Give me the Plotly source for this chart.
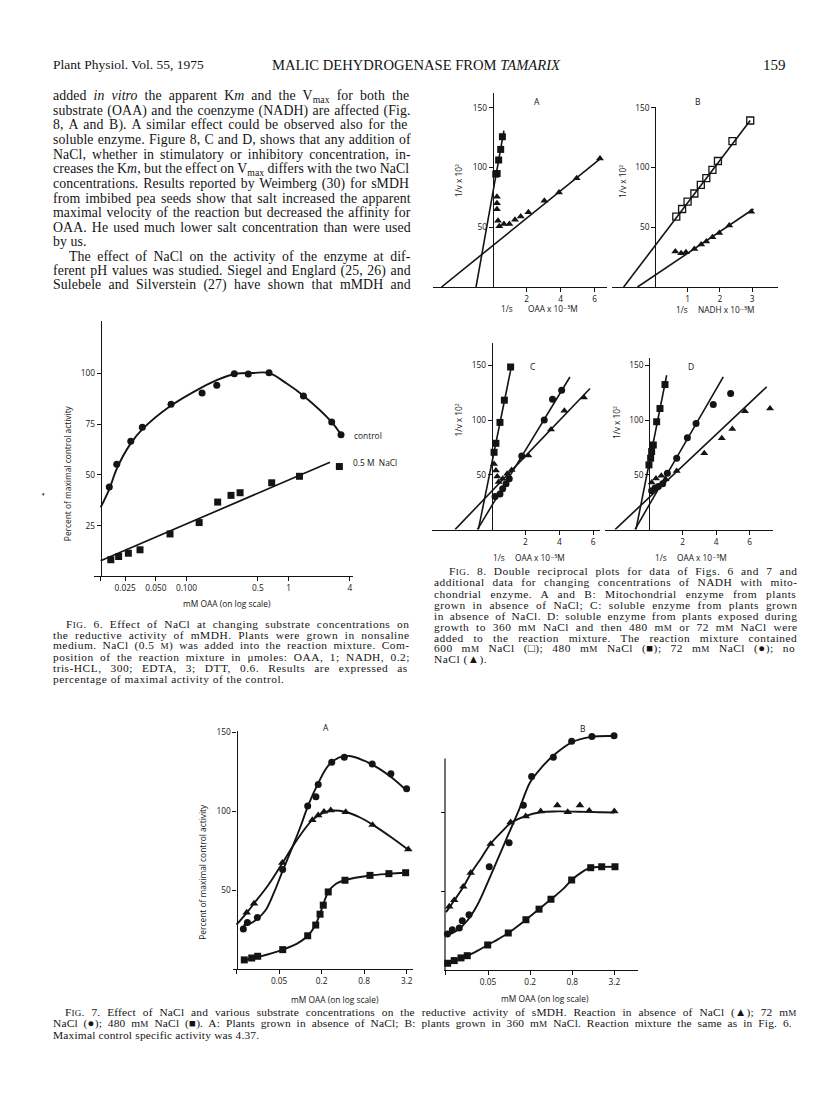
import re
import plotly.graph_objects as go

W, H = 816, 1097

# ===================== DATA =====================
# ---- Fig. 6 : mMDH, % of maximal control activity vs mM OAA (log) ----
f6_ctrl_x = [0.0175, 0.0207, 0.0284, 0.0369, 0.0705, 0.142, 0.198, 0.294, 0.403, 0.644, 1.40, 2.65, 3.27]
f6_ctrl_y = [44.0, 55.2, 66.5, 73.5, 84.8, 90.3, 94.1, 99.8, 99.7, 100.3, 88.9, 76.1, 69.8]
f6_ctrl_curve_x = [0.0144, 0.0175, 0.0207, 0.0284, 0.037, 0.07, 0.14, 0.2, 0.3, 0.45, 0.64, 0.96, 1.4, 2.65, 3.3]
f6_ctrl_curve_y = [34, 43, 53, 65.5, 72.5, 84, 93, 96.8, 99.7, 100.2, 100.2, 95, 89, 76, 69.5]
f6_nacl_x = [0.0181, 0.0216, 0.0269, 0.0350, 0.0689, 0.133, 0.202, 0.273, 0.335, 0.684, 1.28, 3.15]
f6_nacl_y = [8.2, 9.8, 11.4, 13.1, 20.9, 26.5, 36.6, 39.9, 41.2, 46.1, 49.3, 54.1]
f6_nacl_fit_x = [0.0144, 2.55]
f6_nacl_fit_y = [7.7, 56.2]
f6_xtick_vals = [0.0144, 0.025, 0.05, 0.1, 0.5, 1, 4]
f6_xtick_text = ['', '0.025', '0.050', '0.100', '0.5', '1', '4']
f6_ytick_vals = [25, 50, 75, 100]

# ---- Fig. 8 : double reciprocal plots ----
a_sq_x = [0.18, 0.26, 0.35, 0.47, 0.57]
a_sq_y = [94.5, 95, 106.3, 115.2, 125.8]
a_sq_fit_x = [-0.98, 0.66]
a_sq_fit_y = [0, 131]
a_tri_x = [0.25, 0.25, 0.25, 0.31, 0.39, 0.66, 0.98, 1.31, 1.65, 2.1, 3.04, 3.9, 4.94, 6.31]
a_tri_y = [75.5, 70.2, 65.2, 55.5, 50.8, 52.8, 52.8, 56.4, 59.1, 62.5, 72.2, 79.1, 91.1, 107.5]
a_tri_fit_x = [-3.01, 6.41]
a_tri_fit_y = [0, 108.3]

b_osq_x = [0.65, 0.83, 1.0, 1.21, 1.41, 1.58, 1.77, 1.94, 2.39, 2.94]
b_osq_y = [58.9, 65.3, 71.4, 78.3, 85.5, 91.1, 98, 105.5, 122.2, 139.4]
b_osq_fit_x = [-0.98, 2.94]
b_osq_fit_y = [0, 139.4]
b_tri_x = [0.62, 0.8, 0.95, 1.21, 1.42, 1.58, 1.77, 1.98, 2.29, 2.97]
b_tri_y = [29.7, 28.3, 29.2, 31.9, 35.5, 38, 41.6, 45.3, 51.4, 63]
b_tri_fit_x = [-0.55, 3.04]
b_tri_fit_y = [0, 65.3]

c_sq_x = [0.14, 0.25, 0.49, 0.75, 1.12]
c_sq_y = [70.6, 78.8, 97.9, 118.2, 148.5]
c_sq_fit_x = [-0.79, 1.18]
c_sq_fit_y = [0, 150]
c_ci_x = [0.2, 0.49, 0.65, 0.85, 1.04, 1.78, 3.11, 3.6, 4.14]
c_ci_y = [30.3, 32.4, 37.3, 41.8, 46.4, 67.3, 100, 119.1, 127.3]
c_ci_fit_x = [-0.85, 4.63]
c_ci_fit_y = [0, 139.4]
c_tri_x = [0.14, 0.25, 0.33, 0.41, 0.65, 0.92, 1.18, 2.17, 3.51, 4.3, 5.46]
c_tri_y = [60, 54, 48.5, 43.4, 46.4, 50.9, 54.5, 67.6, 91.5, 108.5, 120.6]
c_tri_fit_x = [-2.17, 5.82]
c_tri_fit_y = [0, 128.8]

d_sq_x = [-0.02, 0.08, 0.14, 0.24, 0.44, 0.64, 0.94]
d_sq_y = [59.1, 65.2, 71.3, 77.3, 98.5, 110.6, 132.5]
d_sq_fit_x = [-0.8, 1.04]
d_sq_fit_y = [0, 141]
d_ci_x = [0.14, 0.34, 0.54, 0.8, 1.08, 1.64, 2.28, 2.8, 3.83, 4.87]
d_ci_y = [35.5, 37.9, 39.4, 41.8, 51.5, 65.2, 84, 97, 114.3, 124.3]
d_ci_fit_x = [-0.86, 4.43]
d_ci_fit_y = [0, 139.5]
d_tri_x = [0.14, 0.4, 0.72, 0.98, 1.64, 3.29, 4.34, 4.97, 5.73, 7.23]
d_tri_y = [43.1, 46.7, 49.1, 46.1, 53.6, 69.7, 83.4, 91.8, 108.2, 110.6]
d_tri_fit_x = [-2.05, 7.03]
d_tri_fit_y = [0, 130.4]

f8_ab_yticks = [50, 100, 150]
f8_a_xticks = [2, 4, 6]
f8_b_xticks = [1, 2, 3]

# ---- Fig. 7 : sMDH, % of maximal control activity vs mM OAA (log) ----
a7_ci_x = [0.0156, 0.0178, 0.0246, 0.0562, 0.127, 0.166, 0.179, 0.278, 0.419, 1.04, 1.91, 3.19]
a7_ci_y = [25.3, 29.4, 32.6, 63.1, 103.3, 109.2, 117, 131, 134.2, 130, 123.7, 114.3]
a7_ci_curve_x = [0.0156, 0.02, 0.025, 0.032, 0.042, 0.056, 0.08, 0.1, 0.13, 0.18, 0.25, 0.35, 0.5, 0.8, 1.3, 2, 3.2]
a7_ci_curve_y = [27.5, 29, 32, 37, 48, 62, 79, 90, 104, 118, 129, 134, 135, 132, 127, 121, 113]
a7_tri_x = [0.0174, 0.0221, 0.0556, 0.148, 0.179, 0.216, 0.269, 0.438, 1.05, 3.37]
a7_tri_y = [35.7, 41.4, 67.3, 94.4, 97.4, 99.7, 100.6, 99.5, 91.3, 75.8]
a7_tri_curve_x = [0.0125, 0.0174, 0.0221, 0.035, 0.0556, 0.09, 0.148, 0.2, 0.27, 0.44, 0.7, 1.05, 2, 3.37]
a7_tri_curve_y = [28, 35.5, 41.5, 53, 67, 82, 94.5, 98.5, 100.3, 99.5, 96, 91.5, 83, 75.5]
a7_sq_x = [0.0161, 0.0205, 0.0249, 0.0563, 0.127, 0.165, 0.190, 0.211, 0.248, 0.428, 0.967, 1.79, 3.09]
a7_sq_y = [5.7, 6.9, 8, 12.2, 21, 27.8, 34.7, 40.4, 48.8, 56.2, 59.3, 60.4, 61]
a7_sq_curve_x = [0.0161, 0.025, 0.04, 0.0563, 0.09, 0.127, 0.16, 0.19, 0.215, 0.25, 0.32, 0.43, 0.97, 1.8, 3.1]
a7_sq_curve_y = [5.5, 7.5, 10, 12.2, 16, 21, 27, 35, 42, 49, 54, 56.3, 59.2, 60.3, 61]

b7_tri_x = [0.0139, 0.0164, 0.0221, 0.0282, 0.0545, 0.105, 0.173, 0.283, 0.489, 0.689, 1.03, 1.40, 3.2]
b7_tri_y = [40.2, 44.2, 52.8, 61.6, 79.9, 93.6, 97.4, 100.6, 104.4, 100.1, 104.4, 101, 100.6]
b7_tri_curve_x = [0.0125, 0.0139, 0.0164, 0.0221, 0.0282, 0.04, 0.0545, 0.08, 0.105, 0.17, 0.28, 0.5, 1, 2, 3.2]
b7_tri_curve_y = [36.5, 39.5, 44, 52.5, 61, 71, 80, 88, 93, 97.5, 100, 100.5, 100.3, 100, 99.8]
b7_ci_x = [0.0131, 0.0154, 0.0194, 0.0214, 0.0267, 0.052, 0.1, 0.160, 0.210, 0.429, 0.785, 1.53, 3.17]
b7_ci_y = [22.7, 25.4, 26.5, 31.1, 34.9, 65.4, 80.6, 104.4, 122.7, 134.8, 145, 148, 148.5]
b7_ci_curve_x = [0.0131, 0.018, 0.025, 0.035, 0.05, 0.07, 0.1, 0.14, 0.2, 0.3, 0.43, 0.8, 1.5, 3.2]
b7_ci_curve_y = [22, 25, 31, 41, 56, 71, 87, 102, 119, 129, 136, 144.5, 147.8, 148.3]
b7_sq_x = [0.0132, 0.0164, 0.0205, 0.0252, 0.0494, 0.0973, 0.174, 0.268, 0.397, 0.785, 1.47, 2.11, 3.27]
b7_sq_y = [4.2, 5.9, 7.6, 9, 15.8, 23.4, 31.8, 38.5, 44.8, 57, 64.8, 65.4, 65.4]
b7_sq_curve_x = [0.0132, 0.0164, 0.0205, 0.0252, 0.035, 0.0494, 0.07, 0.0973, 0.174, 0.268, 0.397, 0.6, 0.785, 1.1, 1.47, 2.1, 3.27]
b7_sq_curve_y = [4.2, 5.7, 7.3, 8.8, 12, 15.8, 19.5, 23.4, 31.8, 38.5, 44.8, 51.5, 57, 62, 64.8, 65.3, 65.4]

f7_xtick_vals = [0.0125, 0.05, 0.2, 0.8, 3.2]
f7_xtick_text = ['', '0.05', '0.2', '0.8', '3.2']
f7_ytick_vals = [50, 100, 150]

# ---- page text ----
header_left = "Plant Physiol. Vol. 55, 1975"
header_mid = "MALIC DEHYDROGENASE FROM <i>TAMARIX</i>"
header_page = "159"

body_lines = [
    "added <i>in vitro</i> the apparent K<i>m</i> and the V[max] for both the",
    "substrate (OAA) and the coenzyme (NADH) are affected (Fig.",
    "8, A and B). A similar effect could be observed also for the",
    "soluble enzyme. Figure 8, C and D, shows that any addition of",
    "NaCl, whether in stimulatory or inhibitory concentration, in-",
    "creases the K<i>m</i>, but the effect on V[max] differs with the two NaCl",
    "concentrations. Results reported by Weimberg (30) for sMDH",
    "from imbibed pea seeds show that salt increased the apparent",
    "maximal velocity of the reaction but decreased the affinity for",
    "OAA. He used much lower salt concentration than were used",
    "by us.",
    "The effect of NaCl on the activity of the enzyme at dif-",
    "ferent pH values was studied. Siegel and Englard (25, 26) and",
    "Sulebele and Silverstein (27) have shown that mMDH and",
]

fig6_caption = [
    "F{IG}. 6. Effect of NaCl at changing substrate concentrations on",
    "the reductive activity of mMDH. Plants were grown in nonsaline",
    "medium. NaCl (0.5 {M}) was added into the reaction mixture. Com-",
    "position of the reaction mixture in μmoles: OAA, 1; NADH, 0.2;",
    "tris-HCL, 300; EDTA, 3; DTT, 0.6. Results are expressed as",
    "percentage of maximal activity of the control.",
]

fig8_caption = [
    "F{IG}. 8. Double reciprocal plots for data of Figs. 6 and 7 and",
    "additional data for changing concentrations of NADH with mito-",
    "chondrial enzyme. A and B: Mitochondrial enzyme from plants",
    "grown in absence of NaCl; C: soluble enzyme from plants grown",
    "in absence of NaCl. D: soluble enzyme from plants exposed during",
    "growth to 360 m{M} NaCl and then 480 m{M} or 72 m{M} NaCl were",
    "added to the reaction mixture. The reaction mixture contained",
    "600 m{M} NaCl (□); 480 m{M} NaCl (■); 72 m{M} NaCl (●); no",
    "NaCl (▲).",
]

fig7_caption = [
    "F{IG}. 7. Effect of NaCl and various substrate concentrations on the reductive activity of sMDH. Reaction in absence of NaCl (▲); 72 m{M}",
    "NaCl (●); 480 m{M} NaCl (■). A: Plants grown in absence of NaCl; B: plants grown in 360 m{M} NaCl. Reaction mixture the same as in Fig. 6.",
    "Maximal control specific activity was 4.37.",
]

# ===================== HELPERS =====================
INK = '#141414'
SERIF = 'Liberation Serif, Times New Roman, serif'
SANS = 'Open Sans, DejaVu Sans, sans-serif'
AXF = dict(family=SANS, size=8.3, color=INK)


def fx(p):
    return p / W


def fy(p):
    return 1 - p / H


fig = go.Figure()
annotations = []
shapes = []


def ann(px, py, text, size=8.5, family=SANS, xanchor='center', angle=0):
    annotations.append(dict(x=fx(px), y=fy(py), xref='paper', yref='paper', text=text,
                            showarrow=False, xanchor=xanchor, yanchor='middle',
                            textangle=angle, borderpad=0,
                            font=dict(family=family, size=size, color=INK)))


# Times-compatible advance widths (per 1000 em) for justification
TW = {' ': 250, '(': 333, ')': 333, ',': 250, '-': 333, '.': 250, ':': 278, ';': 278, "'": 333,
      'μ': 500, '▲': 720, '●': 600, '■': 720, '□': 720}
TW.update({d: 500 for d in '0123456789'})
TW.update(dict(zip('ABCDEFGHIJKLMNOPQRSTUVWXYZ',
                   [722, 667, 667, 722, 611, 556, 722, 722, 333, 389, 722, 611, 889, 722, 722, 556,
                    722, 667, 556, 611, 722, 722, 944, 722, 722, 611])))
TW.update(dict(zip('abcdefghijklmnopqrstuvwxyz',
                   [444, 500, 444, 500, 444, 333, 500, 500, 278, 278, 500, 278, 778, 500, 500, 500,
                    500, 333, 389, 278, 500, 500, 722, 500, 500, 444])))


def markup(m, fs):
    # {XX} -> small capitals, [xx] -> subscript
    m = re.sub(r'\{([^}]*)\}',
               lambda mo: '<span style="font-size:%.1fpx">%s</span>' % (fs * 0.8, mo.group(1)), m)
    m = re.sub(r'\[([^\]]*)\]',
               lambda mo: '<span style="font-size:%.1fpx;baseline-shift:-%.1fpx">%s</span>'
               % (fs * 0.7, fs * 0.22, mo.group(1)), m)
    return m


def measure(m, fs):
    w = 0.0
    stack = [1.0]
    for tok in re.split(r'(<[^>]+>)', m):
        if not tok:
            continue
        if tok.startswith('</'):
            if len(stack) > 1:
                stack.pop()
        elif tok.startswith('<'):
            s = stack[-1]
            mo = re.search(r'font-size:([\d.]+)px', tok)
            if mo:
                s = float(mo.group(1)) / fs
            stack.append(s)
        else:
            for ch in tok:
                w += TW.get(ch, 500) * stack[-1]
    return w * fs / 1000.0


def paragraph(lines, x0, x1, y0, dy, fs, indents, ragged, ls=0.0):
    for i, raw in enumerate(lines):
        m = markup(raw, fs)
        left = x0 + indents.get(i, 0)
        plain = re.sub(r'<[^>]+>', '', m)
        if i in ragged:
            txt = '<span style="letter-spacing:%.2fpx">%s</span>' % (ls, m)
        else:
            nat = measure(m, fs) + ls * len(plain)
            ns = plain.count(' ')
            ws = (x1 - left - nat) / ns if ns else 0
            txt = '<span style="letter-spacing:%.2fpx;word-spacing:%.2fpx">%s</span>' % (ls, ws, m)
        ann(left, y0 + i * dy, txt, size=fs, family=SERIF, xanchor='left')


def xaxis_cfg(d0, d1, rng, anchor, typ, tickvals, ticktext=None):
    return dict(domain=[fx(d0), fx(d1)], range=rng, type=typ, anchor=anchor,
                tickmode='array', tickvals=tickvals, ticktext=ticktext,
                ticks='outside', ticklen=4, tickwidth=1.1, tickcolor=INK,
                showline=True, linecolor=INK, linewidth=1.2,
                showgrid=False, zeroline=False, tickfont=AXF, fixedrange=True)


def yaxis_cfg(top, bottom, rng, pos, tickvals, ticktext=None, showline=True):
    return dict(domain=[fy(bottom), fy(top)], range=rng, anchor='free', position=fx(pos),
                tickmode='array', tickvals=tickvals, ticktext=ticktext,
                ticks='outside', ticklen=4, tickwidth=1.1, tickcolor=INK,
                showline=showline, linecolor=INK, linewidth=1.2,
                showgrid=False, zeroline=False, tickfont=AXF, fixedrange=True)


def curve(xs, ys, xa, ya, shape='linear', width=1.8):
    ln = dict(color=INK, width=width, shape=shape)
    if shape == 'spline':
        ln['smoothing'] = 1.0
    fig.add_trace(go.Scatter(x=xs, y=ys, xaxis=xa, yaxis=ya, mode='lines', line=ln,
                             hoverinfo='skip'))


def pts(xs, ys, xa, ya, symbol, size=7):
    open_ = 'open' in symbol
    fig.add_trace(go.Scatter(x=xs, y=ys, xaxis=xa, yaxis=ya, mode='markers',
                             marker=dict(symbol=symbol, size=size, color=INK,
                                         line=dict(width=1.3 if open_ else 0, color=INK)),
                             cliponaxis=False, hoverinfo='skip'))


# ===================== FIG. 6 =====================
curve(f6_ctrl_curve_x, f6_ctrl_curve_y, 'x', 'y', 'spline', 1.9)
curve(f6_nacl_fit_x, f6_nacl_fit_y, 'x', 'y', 'linear', 1.7)
pts(f6_ctrl_x, f6_ctrl_y, 'x', 'y', 'circle', 7)
pts(f6_nacl_x, f6_nacl_y, 'x', 'y', 'square', 7)

# ===================== FIG. 8 =====================
curve(a_sq_fit_x, a_sq_fit_y, 'x2', 'y2', width=1.6)
curve(a_tri_fit_x, a_tri_fit_y, 'x2', 'y2', width=1.6)
pts(a_sq_x, a_sq_y, 'x2', 'y2', 'square', 7)
pts(a_tri_x, a_tri_y, 'x2', 'y2', 'triangle-up', 7)

curve(b_osq_fit_x, b_osq_fit_y, 'x3', 'y3', width=1.6)
curve(b_tri_fit_x, b_tri_fit_y, 'x3', 'y3', width=1.6)
pts(b_osq_x, b_osq_y, 'x3', 'y3', 'square-open', 7)
pts(b_tri_x, b_tri_y, 'x3', 'y3', 'triangle-up', 7)

curve(c_sq_fit_x, c_sq_fit_y, 'x4', 'y4', width=1.6)
curve(c_ci_fit_x, c_ci_fit_y, 'x4', 'y4', width=1.6)
curve(c_tri_fit_x, c_tri_fit_y, 'x4', 'y4', width=1.6)
pts(c_sq_x, c_sq_y, 'x4', 'y4', 'square', 7)
pts(c_ci_x, c_ci_y, 'x4', 'y4', 'circle', 7)
pts(c_tri_x, c_tri_y, 'x4', 'y4', 'triangle-up', 7)

curve(d_sq_fit_x, d_sq_fit_y, 'x5', 'y5', width=1.6)
curve(d_ci_fit_x, d_ci_fit_y, 'x5', 'y5', width=1.6)
curve(d_tri_fit_x, d_tri_fit_y, 'x5', 'y5', width=1.6)
pts(d_sq_x, d_sq_y, 'x5', 'y5', 'square', 7)
pts(d_ci_x, d_ci_y, 'x5', 'y5', 'circle', 7)
pts(d_tri_x, d_tri_y, 'x5', 'y5', 'triangle-up', 7)

# ===================== FIG. 7 =====================
curve(a7_ci_curve_x, a7_ci_curve_y, 'x6', 'y6', 'spline', 1.9)
curve(a7_tri_curve_x, a7_tri_curve_y, 'x6', 'y6', 'spline', 1.9)
curve(a7_sq_curve_x, a7_sq_curve_y, 'x6', 'y6', 'spline', 1.9)
pts(a7_ci_x, a7_ci_y, 'x6', 'y6', 'circle', 7)
pts(a7_tri_x, a7_tri_y, 'x6', 'y6', 'triangle-up', 7.5)
pts(a7_sq_x, a7_sq_y, 'x6', 'y6', 'square', 7)

curve(b7_ci_curve_x, b7_ci_curve_y, 'x7', 'y7', 'spline', 1.9)
curve(b7_tri_curve_x, b7_tri_curve_y, 'x7', 'y7', 'spline', 1.9)
curve(b7_sq_curve_x, b7_sq_curve_y, 'x7', 'y7', 'spline', 1.9)
pts(b7_ci_x, b7_ci_y, 'x7', 'y7', 'circle', 7)
pts(b7_tri_x, b7_tri_y, 'x7', 'y7', 'triangle-up', 7.5)
pts(b7_sq_x, b7_sq_y, 'x7', 'y7', 'square', 7)

# ===================== AXES =====================
layout_axes = dict(
    xaxis=xaxis_cfg(94, 353, [-1.907, 0.632], 'y', 'log', f6_xtick_vals, f6_xtick_text),
    yaxis=yaxis_cfg(317, 574, [0, 126], 100.7, f6_ytick_vals),
    xaxis2=xaxis_cfg(433.3, 607, [-3.494, 6.724], 'y2', 'linear', f8_a_xticks),
    yaxis2=yaxis_cfg(88, 283.3, [0, 162.75], 492.7, f8_ab_yticks),
    xaxis3=xaxis_cfg(611.7, 778, [-1.35, 3.80], 'y3', 'linear', f8_b_xticks),
    yaxis3=yaxis_cfg(102, 283.3, [0, 151.08], 655.3, f8_ab_yticks),
    xaxis4=xaxis_cfg(431.7, 600, [-3.55, 6.41], 'y4', 'linear', f8_a_xticks),
    yaxis4=yaxis_cfg(340, 527, [0, 170], 491.7, f8_ab_yticks),
    xaxis5=xaxis_cfg(605, 773.3, [-2.653, 7.425], 'y5', 'linear', f8_a_xticks),
    yaxis5=yaxis_cfg(355, 527, [0, 156.4], 649.3, f8_ab_yticks),
    xaxis6=xaxis_cfg(233, 413, [-1.953, 0.594], 'y6', 'log', f7_xtick_vals, f7_xtick_text),
    yaxis6=yaxis_cfg(729, 968.3, [0, 151.07], 236.5, f7_ytick_vals),
    xaxis7=xaxis_cfg(444.3, 638.3, [-1.927, 0.848], 'y7', 'log', f7_xtick_vals, f7_xtick_text),
    yaxis7=yaxis_cfg(729, 969.3, [0, 151.7], 445, [50, 100], ['', ''], showline=False),
)
shapes.append(dict(type='line', xref='paper', yref='paper', x0=fx(445), x1=fx(445),
                   y0=fy(757), y1=fy(969.3), line=dict(color=INK, width=1.2)))

# ===================== CHART LABELS =====================
ann(68.3, 470, 'Percent of maximal control activity', 8.4, angle=-90)
ann(227, 601, 'mM OAA (on log scale)', 8.4)
ann(353, 432, 'control', 8.4, xanchor='left')
ann(352, 460, '0.5 M  NaCl', 8.4, xanchor='left')
ann(43, 491, '▾', 5)

YT = '1/v x 10²'
ann(536.7, 96.7, 'A', 8.5)
ann(698, 96.7, 'B', 8.5)
ann(533.3, 363.3, 'C', 8.5)
ann(690.7, 363.3, 'D', 8.5)
ann(458, 177, YT, 8.3, angle=-90)
ann(621.7, 177, YT, 8.3, angle=-90)
ann(458.3, 417, YT, 8.3, angle=-90)
ann(616, 420, YT, 8.3, angle=-90)
for (x1s, x2s, yy, lab) in [(507, 553, 305, 'OAA x 10⁻⁵M'),
                            (681.7, 726.7, 306, 'NADH x 10⁻⁵M'),
                            (499.3, 540, 555, 'OAA x 10⁻⁵M'),
                            (660.7, 701.7, 555, 'OAA x 10⁻⁵M')]:
    ann(x1s, yy, '1/s', 8.3)
    ann(x2s, yy, lab, 8.3)

ann(325.7, 726, 'A', 8.5)
ann(583.3, 726.7, 'B', 8.5)
ann(201.7, 871, 'Percent of maximal control activity', 8.4, angle=-90)
ann(335, 999.3, 'mM OAA (on log scale)', 8.4)
ann(545, 997.7, 'mM OAA (on log scale)', 8.4)

# ===================== PAGE TEXT =====================
ann(51.7, 60, header_left, 13.5, SERIF, xanchor='left')
ann(270.7, 60, header_mid, 14.6, SERIF, xanchor='left')
ann(787, 60, header_page, 15, SERIF, xanchor='right')

paragraph(body_lines, 51.7, 409.5, 91.7, 14.62, 13.8, {11: 16}, {10}, ls=0.1)
paragraph(fig6_caption, 51.7, 408.5, 621.7, 11.0, 11.4, {0: 13}, {5}, ls=0.5)
paragraph(fig8_caption, 432.7, 796.5, 569, 11.1, 11.4, {0: 15}, {8}, ls=0.5)
paragraph(fig7_caption, 51.7, 793, 1012, 11.6, 11.4, {0: 12}, {2}, ls=0.2)

fig.update_layout(
    width=W, height=H, margin=dict(l=0, r=0, t=0, b=0),
    paper_bgcolor='white', plot_bgcolor='rgba(0,0,0,0)',
    showlegend=False, annotations=annotations, shapes=shapes,
    **layout_axes,
)

fig.write_html("out.html", config={'displayModeBar': False},
               post_script="document.body.style.margin='0px';document.body.style.overflow='hidden';")
